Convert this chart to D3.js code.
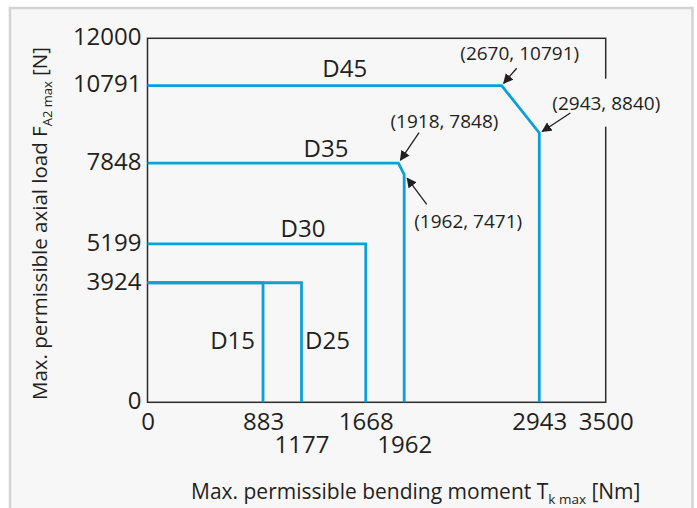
<!DOCTYPE html>
<html>
<head>
<meta charset="utf-8">
<script src="https://cdn.jsdelivr.net/npm/d3@7"></script>
<style>
  html, body { margin: 0; padding: 0; background: #ffffff; }
  svg { display: block; font-family: "Open Sans", "Noto Sans", sans-serif; }
</style>
</head>
<body>
<svg id="chart" width="697" height="508"></svg>
<script>
// Permissible load envelopes per size (bending moment Nm, axial load N)
const seriesNames = ["D15", "D25", "D30", "D35", "D45"];
const seriesMoment = [
  [0, 883, 883],
  [0, 1177, 1177],
  [0, 1668, 1668],
  [0, 1918, 1962, 1962],
  [0, 2670, 2943, 2943]
];
const seriesLoad = [
  [3924, 3924, 0],
  [3924, 3924, 0],
  [5199, 5199, 0],
  [7848, 7848, 7471, 0],
  [10791, 10791, 8840, 0]
];

// Axis tick labels
const yTicks = [0, 3924, 5199, 7848, 10791, 12000];
const xTicksRow1 = [0, 883, 1668, 2943, 3500];
const xTicksRow2 = [1177, 1962];

// Corner-point callouts
const calloutMoment = [2670, 2943, 1918, 1962];
const calloutLoad = [10791, 8840, 7848, 7471];

const svg = d3.select("#chart");
const bg = "#f7f7f7";
const ink = "#231f20";
const blue = "#0d9fd8";

// Panel background with a light frame on top and sides
svg.append("rect").attr("x", 0).attr("y", 0).attr("width", 697).attr("height", 508).attr("fill", "#ffffff");
svg.append("path")
  .attr("d", "M10,520 V8 H692.5 V520 Z")
  .attr("fill", bg)
  .attr("stroke", "#d3d3d3")
  .attr("stroke-width", 2.5);

// The axes are drawn schematically, so the scales are piecewise linear
const x = d3.scaleLinear()
  .domain([0, 1962, 2943, 3500])
  .range([147.5, 404.2, 539.3, 605.7]);
const y = d3.scaleLinear()
  .domain([0, 8840, 10791, 12000])
  .range([402.3, 133, 85.7, 38.3]);

// Plot frame
svg.append("rect")
  .attr("x", x(0)).attr("y", y(12000))
  .attr("width", x(3500) - x(0))
  .attr("height", y(0) - y(12000))
  .attr("fill", "none")
  .attr("stroke", "#2b2b2b")
  .attr("stroke-width", 1.5);

// Axes (labels only)
const yAxis = svg.append("g")
  .attr("transform", `translate(${x(0)},0)`)
  .call(d3.axisLeft(y).tickValues(yTicks).tickSize(0).tickPadding(6).tickFormat(d3.format("d")));
yAxis.select(".domain").remove();
yAxis.selectAll("text")
  .attr("font-size", 24).attr("fill", ink).attr("font-family", "Open Sans")
  .attr("dy", "0.26em");

function xAxisRow(ticks, pad) {
  const g = svg.append("g")
    .attr("transform", `translate(0,${y(0)})`)
    .call(d3.axisBottom(x).tickValues(ticks).tickSize(0).tickPadding(pad).tickFormat(d3.format("d")));
  g.select(".domain").remove();
  g.selectAll("text")
    .attr("font-size", 24).attr("fill", ink).attr("font-family", "Open Sans");
  return g;
}
xAxisRow(xTicksRow1, 11);
xAxisRow(xTicksRow2, 34);

// Envelope lines
const line = d3.line().x(d => x(d[0])).y(d => y(d[1]));
seriesNames.forEach((name, i) => {
  const pts = seriesMoment[i].map((m, j) => [m, seriesLoad[i][j]]);
  svg.append("path")
    .attr("d", line(pts))
    .attr("fill", "none")
    .attr("stroke", blue)
    .attr("stroke-width", 2.8)
    .attr("stroke-linejoin", "miter");
});

// Series name labels
const nameLayout = {
  D45: { x: 344.7, y: y(10791) - 9, anchor: "middle" },
  D35: { x: 326, y: y(7848) - 6.5, anchor: "middle" },
  D30: { x: 303, y: y(5199) - 7, anchor: "middle" },
  D15: { x: 255, y: 348.5, anchor: "end" },
  D25: { x: 305, y: 348.5, anchor: "start" }
};
seriesNames.forEach(name => {
  const p = nameLayout[name];
  svg.append("text")
    .attr("x", p.x).attr("y", p.y)
    .attr("text-anchor", p.anchor)
    .attr("font-size", 24)
    .attr("fill", ink)
    .text(name);
});

// Callouts with arrows pointing at the corner points
svg.append("defs").append("marker")
  .attr("id", "arrow")
  .attr("viewBox", "0 0 10 10")
  .attr("refX", 9).attr("refY", 5)
  .attr("markerWidth", 10).attr("markerHeight", 10)
  .attr("markerUnits", "userSpaceOnUse")
  .attr("orient", "auto")
  .append("path")
  .attr("d", "M0,0 L10,5 L0,10 Z")
  .attr("fill", ink);

const calloutLayout = [
  { label: [18, -32], tail: [15, -17.5], tip: [2, -2.5], knockout: false },
  { label: [67, -30], tail: [31, -20], tip: [3, -1.5], knockout: true },
  { label: [46, -41.5], tail: [20.6, -30.5], tip: [2, -3], knockout: false },
  { label: [64, 47], tail: [22.5, 29.6], tip: [3, 3.5], knockout: false }
];
const fmt = d3.format("d");
calloutMoment.forEach((m, i) => {
  const px = x(m), py = y(calloutLoad[i]);
  const L = calloutLayout[i];
  const g = svg.append("g");
  const t = g.append("text")
    .attr("x", px + L.label[0]).attr("y", py + L.label[1])
    .attr("dy", "0.35em")
    .attr("text-anchor", "middle")
    .attr("font-size", 19)
    .attr("fill", ink)
    .text(`(${fmt(m)}, ${fmt(calloutLoad[i])})`);
  if (L.knockout) {
    const b = t.node().getBBox();
    g.insert("rect", "text")
      .attr("x", b.x - 2).attr("y", b.y - 11)
      .attr("width", b.width + 4).attr("height", b.height + 22)
      .attr("fill", bg);
  }
  svg.append("line")
    .attr("x1", px + L.tail[0]).attr("y1", py + L.tail[1])
    .attr("x2", px + L.tip[0]).attr("y2", py + L.tip[1])
    .attr("stroke", ink)
    .attr("stroke-width", 1.3)
    .attr("marker-end", "url(#arrow)");
});

// Axis titles
const xTitle = svg.append("text")
  .attr("x", 191).attr("y", 499)
  .attr("font-size", 21)
  .attr("fill", ink);
xTitle.append("tspan").text("Max. permissible bending moment T");
xTitle.append("tspan").attr("font-size", 13.5).attr("dy", 5).text("k max");
xTitle.append("tspan").attr("dy", -5).text(" [Nm]");

const yTitle = svg.append("text")
  .attr("transform", "translate(46.5,400) rotate(-90)")
  .attr("font-size", 20.5)
  .attr("fill", ink);
yTitle.append("tspan").text("Max. permissible axial load F");
yTitle.append("tspan").attr("font-size", 13).attr("dy", 5).text("A2 max");
yTitle.append("tspan").attr("dy", -5).text(" [N]");
</script>
</body>
</html>
